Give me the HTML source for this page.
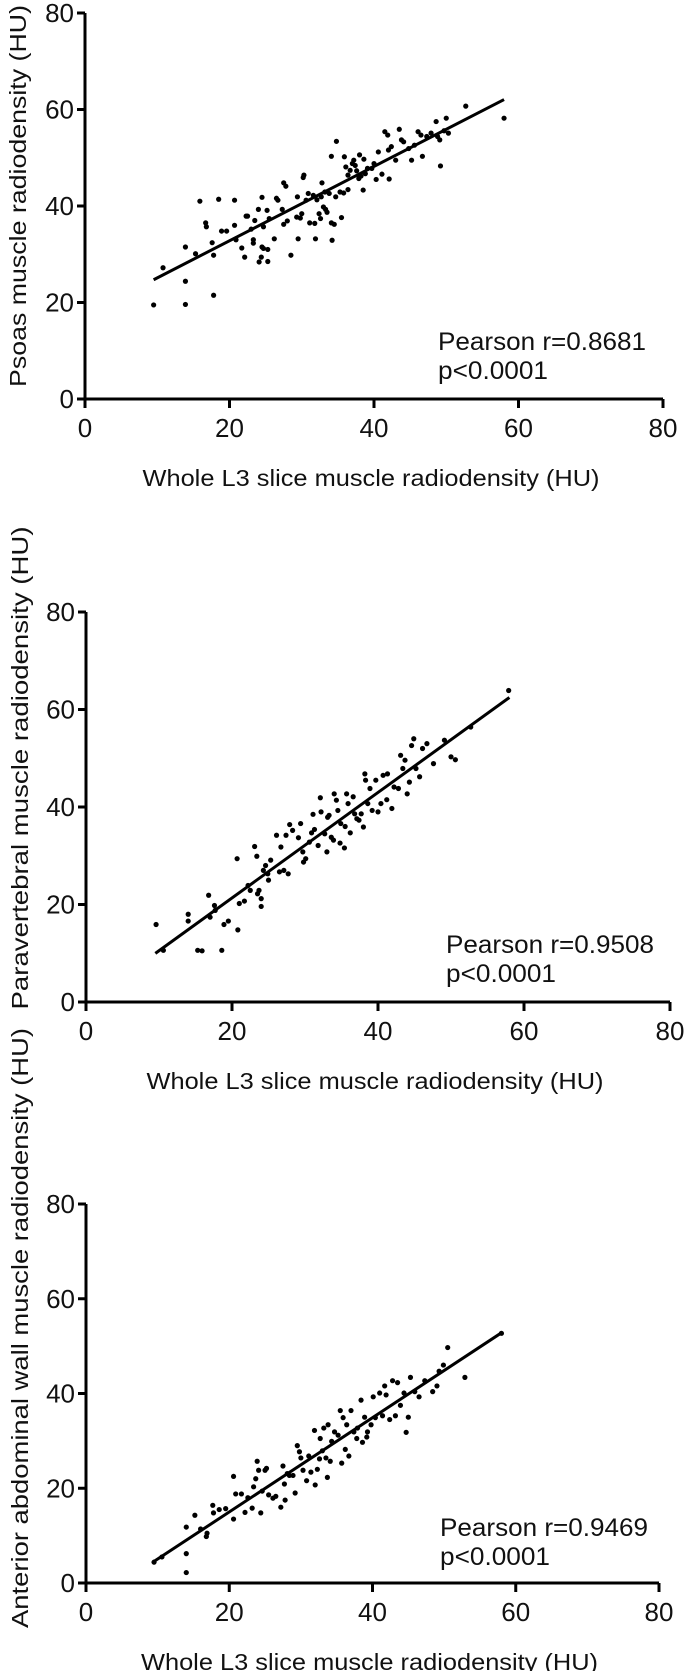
<!DOCTYPE html>
<html><head><meta charset="utf-8"><style>
html,body{margin:0;padding:0;background:#fff;}
svg{display:block;}
text{font-family:"Liberation Sans",Arial,sans-serif;fill:#111;}
</style></head>
<body>
<svg id="fig" width="687" height="1671" viewBox="0 0 687 1671"></svg>
<script>
// ---- Data: panel 1 (Psoas) ----
const xs1=[9.5,10.8,13.9,13.9,13.9,15.3,15.9,16.7,16.8,17.6,17.8,17.8,18.5,18.9,19.6,20.7,20.7,20.9,21.7,22.1,22.3,22.5,23.0,23.3,23.3,23.5,24.0,24.1,24.5,24.4,24.5,24.7,24.7,25.2,25.3,25.3,25.5,26.2,26.5,26.7,27.3,27.5,27.5,27.8,28.0,28.5,29.3,29.4,29.5,29.8,30.2,30.3,30.0,30.6,30.9,31.1,31.6,31.8,31.9,32.1,32.4,32.6,32.7,32.8,33.0,33.2,33.3,33.5,33.8,34.1,34.1,34.2,34.5,34.7,34.8,35.3,35.5,35.8,35.9,36.1,36.4,36.4,36.7,37.0,37.2,37.4,37.6,37.9,38.0,38.2,38.5,38.6,38.8,39.1,39.7,40.0,40.3,40.6,41.1,41.5,41.9,42.0,42.1,42.4,43.0,43.5,43.8,44.1,44.8,45.2,45.6,46.1,46.5,46.7,47.3,47.9,48.6,48.8,49.1,49.2,49.7,50.0,50.3,52.7,58.0];
const ys1=[19.5,27.2,31.5,24.4,19.6,30.1,41.0,36.5,35.7,32.4,29.8,21.5,41.4,34.8,34.8,41.2,36.0,33.0,31.3,29.4,37.9,37.9,35.2,33.0,32.3,37.0,39.3,28.4,41.8,29.4,31.5,35.7,31.2,39.1,31.0,28.5,37.4,33.2,41.6,41.2,39.3,36.2,44.8,44.1,36.9,29.8,37.7,41.9,33.2,37.5,45.9,46.4,38.4,41.2,42.6,36.5,42.2,36.4,33.2,41.3,38.4,37.4,41.9,44.8,39.8,42.9,39.3,38.7,42.6,50.3,36.5,32.9,36.2,41.9,53.4,42.9,37.6,42.7,50.2,48.1,46.4,43.4,47.4,48.8,49.5,48.4,47.3,45.7,50.6,46.2,43.3,49.7,46.7,47.8,47.8,48.8,45.5,51.2,46.6,55.4,54.7,51.6,45.6,52.3,49.5,55.9,53.7,53.3,51.9,49.5,52.6,55.4,54.7,50.3,54.4,55.1,57.5,54.4,53.7,48.3,55.6,58.2,55.1,60.7,58.2];
const fit1=[0.77,17.4]; // slope, intercept
const fitRange1=[9.5,58];
// ---- Data: panel 2 (Paravertebral) ----
const xs2=[9.6,10.6,14.0,14.0,15.3,15.9,16.8,17.0,17.6,17.7,18.6,18.9,19.5,20.7,20.8,21.0,21.7,22.2,22.5,23.1,23.4,23.5,23.7,24.0,24.0,24.3,24.6,24.9,25.0,25.3,26.1,26.5,26.7,27.1,27.4,27.7,27.9,28.3,29.1,29.4,29.7,29.8,30.1,30.6,30.9,31.1,31.3,31.8,32.1,32.2,32.7,33.0,33.1,33.3,33.6,33.9,34.0,34.3,34.5,34.8,34.9,35.4,35.5,35.7,35.9,36.2,36.6,36.8,37.1,37.4,37.7,38.0,38.2,38.3,38.6,38.9,39.2,39.7,40.0,40.4,40.7,41.2,41.3,41.9,42.2,42.8,43.1,43.4,43.7,44.0,44.3,44.6,44.9,45.2,45.7,46.1,46.7,47.6,49.1,50.0,50.6,52.7,57.9];
const ys2=[15.9,10.6,18.0,16.6,10.6,10.5,21.9,17.4,19.8,18.8,10.6,15.9,16.6,29.4,14.8,20.2,20.7,23.9,22.9,31.9,29.9,22.2,22.9,21.2,19.6,27.0,28.0,26.3,25.0,29.1,34.2,26.7,31.8,27.0,34.2,26.3,36.4,35.2,33.7,36.6,30.8,28.7,29.4,32.8,34.7,38.5,35.4,32.1,41.9,39.0,34.5,30.8,37.9,38.3,33.8,33.2,42.7,41.4,39.3,32.6,36.6,31.6,36.0,42.7,40.7,34.7,42.1,38.6,37.6,37.3,38.6,35.9,46.8,45.5,40.7,43.8,39.3,45.5,39.0,40.7,46.5,41.5,46.8,39.7,44.1,43.8,50.6,47.9,49.6,42.7,45.1,52.6,54.0,47.9,46.2,52.0,53.0,48.9,53.7,50.3,49.7,56.4,63.9];
const fit2=[1.082,-0.3];
const fitRange2=[9.5,58];
// ---- Data: panel 3 (Anterior abdominal wall) ----
const xs3=[9.5,10.6,14.0,14.0,14.0,15.2,16.0,16.8,16.9,17.7,17.8,18.6,19.5,20.6,20.6,20.9,21.7,22.2,22.6,23.2,23.4,23.7,23.9,24.1,24.4,24.6,25.0,25.2,25.5,26.1,26.5,27.2,27.5,27.7,27.8,28.1,28.4,28.9,29.2,29.5,29.8,30.0,30.3,30.8,31.1,31.4,31.9,32.0,32.3,32.6,32.7,33.0,33.2,33.5,33.7,33.8,34.1,34.3,34.7,35.2,35.5,35.7,35.9,36.2,36.4,36.7,37.0,37.4,37.8,37.9,38.4,38.6,38.9,39.2,39.3,39.8,40.1,40.4,41.0,41.4,41.7,41.9,42.4,42.8,43.2,43.5,43.9,44.4,44.7,45.0,45.3,45.9,46.5,47.3,48.4,49.0,49.3,49.9,50.5,52.9,58.0];
const ys3=[4.4,5.5,11.8,6.2,2.2,14.3,11.4,9.8,10.5,16.4,14.8,15.5,15.7,22.5,13.5,18.8,18.8,14.9,18.0,15.8,20.3,22.0,25.7,23.8,14.8,19.4,23.8,24.2,18.6,17.9,18.3,16.0,24.7,20.9,17.5,23.1,22.7,22.7,19.0,29.0,27.7,26.4,23.8,21.6,26.8,23.4,32.2,20.7,24.0,26.2,30.5,27.9,32.7,26.4,22.3,33.4,25.7,29.9,31.9,31.2,36.4,25.3,34.9,28.2,33.4,26.8,36.4,31.9,30.5,32.7,38.6,29.7,35.0,30.8,31.9,33.4,39.3,34.9,40.1,35.3,41.6,39.7,34.5,42.7,35.3,42.3,37.5,40.1,31.8,35.0,43.4,40.4,39.3,42.7,40.4,41.6,44.7,46.0,49.7,43.4,52.7];
const fit3=[0.995,-4.9];
const fitRange3=[9.5,58];
const xTicks=[0,20,40,60,80];
const yTicks=[0,20,40,60,80];
const yTitles=["Psoas muscle radiodensity (HU)","Paravertebral muscle radiodensity (HU)","Anterior abdominal wall muscle radiodensity (HU)"];
const statR=["Pearson r=0.8681","Pearson r=0.9508","Pearson r=0.9469"];
const statP=["p<0.0001","p<0.0001","p<0.0001"];
const xTitle="Whole L3 slice muscle radiodensity (HU)";

const NS="http://www.w3.org/2000/svg";
const svg=document.getElementById('fig');
function mk(tag,attrs,parent){const e=document.createElementNS(NS,tag);for(const k in attrs)e.setAttribute(k,attrs[k]);(parent||svg).appendChild(e);return e;}

const layouts=[
 {x0:85,x1:663,y0:399,y1:13,ytc:[18,196,382],statX:438,statY:350},
 {x0:86,x1:670,y0:1002,y1:612,ytc:[20,768,483],statX:446,statY:953},
 {x0:86,x1:659,y0:1583,y1:1204,ytc:[20,1328,600],statX:440,statY:1536}
];
const datasets=[[xs1,ys1,fit1,fitRange1],[xs2,ys2,fit2,fitRange2],[xs3,ys3,fit3,fitRange3]];

layouts.forEach((L,i)=>{
  const g=mk('g',{});
  
  
  const sx=v=>L.x0+(v-0)/(80-0)*(L.x1-L.x0);
  const sy=v=>L.y0-(v-0)/(80-0)*(L.y0-L.y1);
  // axes
  const ax=mk('path',{d:`M${L.x0},${L.y1} V${L.y0} H${L.x1}`,fill:'none',stroke:'#000','stroke-width':3},g);
  
  
  xTicks.forEach(t=>{
    const tk=mk('line',{x1:sx(t),x2:sx(t),y1:L.y0,y2:L.y0+9,stroke:'#000','stroke-width':3},g);
    
    
    const tl=mk('text',{x:sx(t),y:L.y0+38,'text-anchor':'middle','font-size':26},g);
    tl.textContent=t;
    
    
  });
  yTicks.forEach(t=>{
    const tk=mk('line',{x1:L.x0-8,x2:L.x0,y1:sy(t),y2:sy(t),stroke:'#000','stroke-width':3},g);
    
    
    const tl=mk('text',{x:L.x0-11,y:sy(t)+9,'text-anchor':'end','font-size':26},g);
    tl.textContent=t;
    
    
  });
  // y title
  const yt=mk('text',{x:0,y:0,'text-anchor':'middle','font-size':23,textLength:L.ytc[2],lengthAdjust:'spacingAndGlyphs',transform:`translate(${L.ytc[0]+8},${L.ytc[1]}) rotate(-90)`},g);
  yt.textContent=yTitles[i];
  
  
  // x title
  const xt=mk('text',{x:(L.x0+L.x1)/2-3,y:L.y0+87,'text-anchor':'middle','font-size':23,textLength:457,lengthAdjust:'spacingAndGlyphs'},g);
  xt.textContent=xTitle;
  
  
  // points
  const [xs,ys,fit,fr]=datasets[i];
  xs.forEach((xv,j)=>{
    const c=mk('circle',{cx:sx(xv),cy:sy(ys[j]),r:2.6,fill:'#000'},g);
    
    
  });
  // regression line
  const ln=mk('line',{x1:sx(fr[0]),y1:sy(fit[0]*fr[0]+fit[1]),x2:sx(fr[1]),y2:sy(fit[0]*fr[1]+fit[1]),stroke:'#000','stroke-width':3},g);
  
  
  // stats
  const s1=mk('text',{x:L.statX,y:L.statY,'font-size':25,textLength:208,lengthAdjust:'spacingAndGlyphs'},g);
  s1.textContent=statR[i];
  
  
  const s2=mk('text',{x:L.statX,y:L.statY+29,'font-size':25,textLength:110,lengthAdjust:'spacingAndGlyphs'},g);
  s2.textContent=statP[i];
  
  
});
</script>
</body></html>
